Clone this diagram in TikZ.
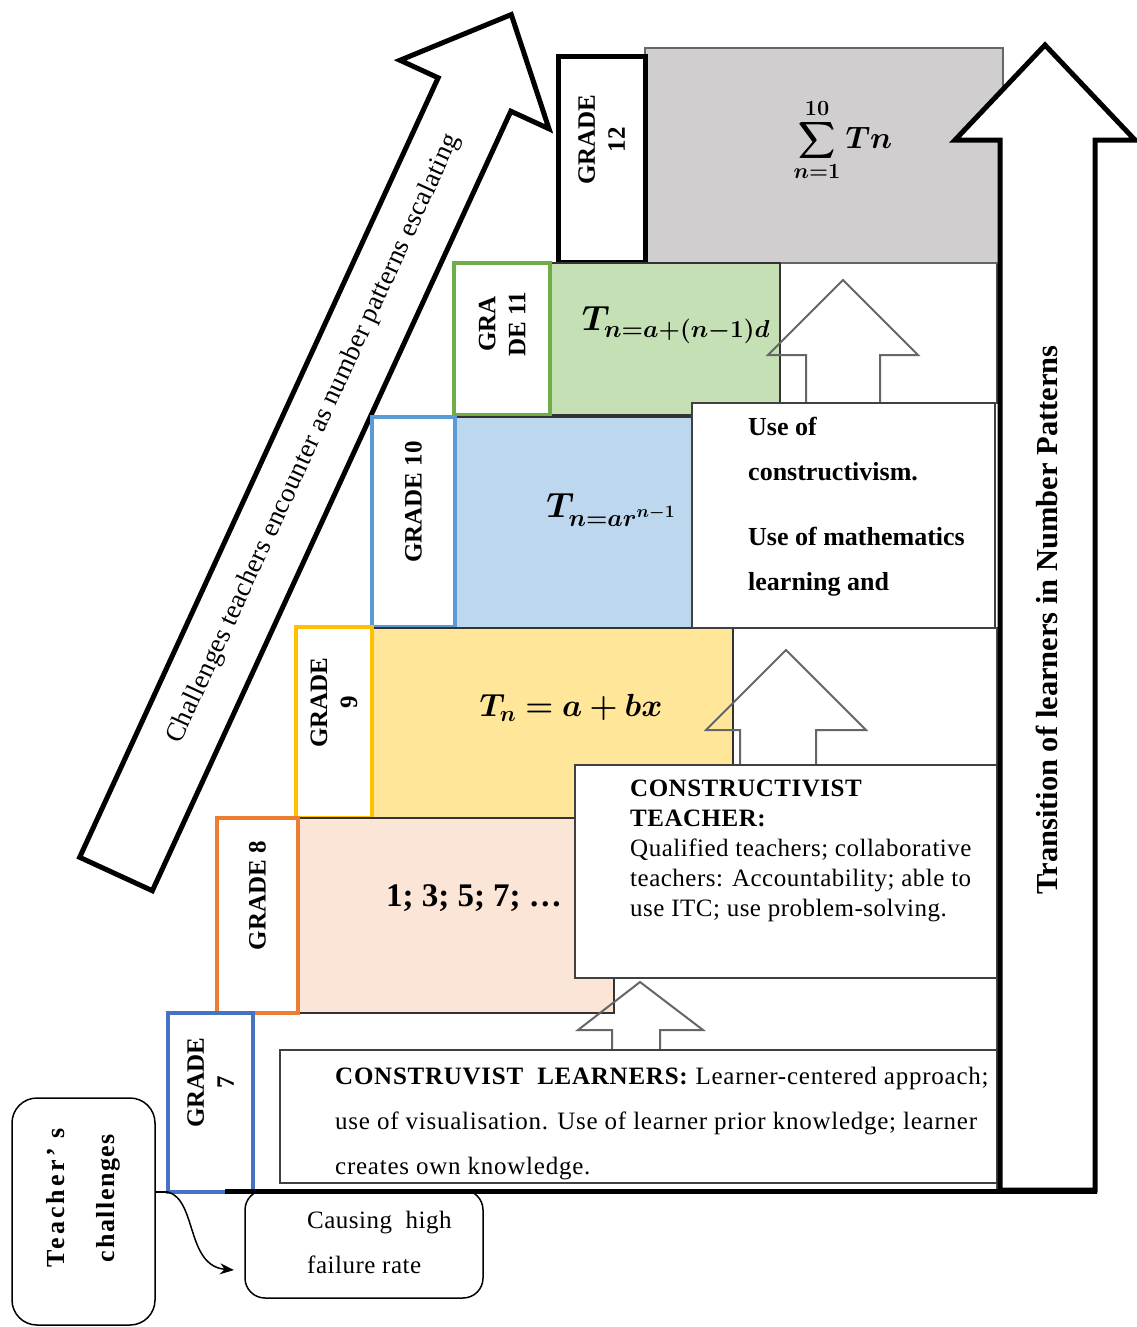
\RequirePackage{fix-cm}
\documentclass[tikz,border=0pt]{standalone}
\usepackage{amsmath}
\usepackage{bm}
\usepackage{fontspec}
\setmainfont{Liberation Serif}
\usetikzlibrary{fit,arrows.meta}

\definecolor{sumgray}{HTML}{D0CECE}
\definecolor{g11fill}{HTML}{C5E0B4}
\definecolor{g11edge}{HTML}{70AD47}
\definecolor{g10fill}{HTML}{BDD7EE}
\definecolor{g10edge}{HTML}{5B9BD5}
\definecolor{g9fill}{HTML}{FFE699}
\definecolor{g9edge}{HTML}{FFC000}
\definecolor{g8fill}{HTML}{FBE5D6}
\definecolor{g8edge}{HTML}{ED7D31}
\definecolor{g7edge}{HTML}{4472C4}

\begin{document}
\begin{tikzpicture}[x=1pt,y=-1pt,
  plainrect/.style={inner sep=0pt, outer sep=0pt},
  gradebox/.style={plainrect, draw=#1, line width=4pt, fill=white},
  termbox/.style={plainrect, draw=black!80, line width=1.4pt, fill=#1},
  rowcell/.style={plainrect, draw=black!70, line width=1.3pt, fill=white},
  notebox/.style={plainrect, draw=black!75, line width=1.4pt, fill=white},
  hollowup/.style={draw=black!60, line width=2pt, line join=miter},
  bigarrow/.style={draw=black, line width=5pt, fill=white, line join=miter},
  gradetxt/.style={rotate=90, align=center, font=\fontsize{25}{30}\selectfont\bfseries},
  mathtxt/.style={font=\fontsize{#1}{#1}\selectfont},
  bodytxt/.style={anchor=north west, align=left, inner sep=0pt},
]
\useasboundingbox (0,0) rectangle (1137,1327);

% ---- diagonal "challenges" arrow ----
\begin{scope}[shift={(116,874)}, rotate=65.3]
  \draw[bigarrow] (0,-40) -- (858,-40) -- (858,-82) -- (946,0) -- (858,82)
        -- (858,40) -- (0,40) -- cycle;
  \coordinate (dtext) at (478,-2);
\end{scope}
\node[rotate=65.3, font=\fontsize{27}{30}\selectfont\addfontfeature{LetterSpace=1}] at (dtext)
  {Challenges teachers encounter as number patterns escalating};

% ---- empty row cells of the staircase ----
\node[rowcell, fit={(253,978)(997,1190)}] (cell7) {};
\node[rowcell, fit={(733,628)(997,765)}] (cell9) {};
\node[rowcell, fit={(780,263)(997,403)}] (cell11) {};

% ---- grade 12 ----
\node[termbox=sumgray, draw=black!60, fit={(645,48)(1003,263)}] (t12) {};
\node[gradebox=black, line width=5pt, fit={(558,57)(645,262)}] (g12) {};

% ---- grade 11 ----
\node[termbox=g11fill, fit={(550,263)(780,415)}] (t11) {};
\node[gradebox=g11edge, fit={(454,263)(550,415)}] (g11) {};

% ---- grade 10 ----
\node[termbox=g10fill, fit={(455,417)(692,628)}] (t10) {};
\node[gradebox=g10edge, fit={(372,417)(455,627)}] (g10) {};

% ---- grade 9 ----
\node[termbox=g9fill, fit={(372,628)(733,818)}] (t9) {};
\node[gradebox=g9edge, fit={(296,627)(372,818)}] (g9) {};

% ---- grade 8 ----
\node[termbox=g8fill, fit={(298,818)(614,1013)}] (t8) {};
\node[gradebox=g8edge, fit={(217,818)(298,1013)}] (g8) {};

% ---- grade 7 ----
\node[gradebox=g7edge, fit={(168,1013)(253,1192)}] (g7) {};

% ---- hollow up arrows between the note boxes ----
\draw[hollowup] (806,403) -- (806,355) -- (768,355) -- (843,280) -- (918,355)
      -- (880,355) -- (880,403);
\draw[hollowup] (740,765) -- (740,730) -- (706,730) -- (786,650) -- (866,730)
      -- (816,730) -- (816,765);
\draw[hollowup] (612,1050) -- (612,1030) -- (578,1030) -- (640,982) -- (703,1030)
      -- (660,1030) -- (660,1050);

% ---- note boxes ----
\node[notebox, fit={(692,403)(995,628)}] (useof) {};
\node[notebox, fit={(575,765)(997,978)}] (teacher) {};
\node[notebox, fit={(280,1050)(997,1183)}] (learners) {};

% ---- big transition arrow and base line ----
\draw[bigarrow] (1000,1190) -- (1000,140) -- (955,140) -- (1045,45) -- (1135,140)
      -- (1095,140) -- (1095,1190) -- cycle;
\draw[line width=5pt] (225,1191) -- (1097,1191);
\node[rotate=90, font=\fontsize{30.5}{34}\selectfont\bfseries] at (1047,620)
  {Transition of learners in Number Patterns};

% ---- grade labels ----
\node[gradetxt] at ([yshift=20pt]g12.center) {GRADE\\12};
\node[gradetxt] at ([yshift=15pt]g11.center) {GRA\\DE 11};
\node[gradetxt] at ([yshift=20pt]g10.center) {GRADE 10};
\node[gradetxt] at ([yshift=20pt]g9.center) {GRADE\\9};
\node[gradetxt] at ([yshift=20pt]g8.center) {GRADE 8};
\node[gradetxt] at ([yshift=20pt]g7.center) {GRADE\\7};

% ---- number pattern formulas ----
\node[mathtxt=31] at (843,140) {$\displaystyle\bm{\sum_{n=1}^{10} Tn}$};
\node[mathtxt=35] at (676,325) {$\bm{T_{n=a+(n-1)d}}$};
\node[mathtxt=35] at (611,510) {$\bm{T_{n=ar^{n-1}}}$};
\node[mathtxt=32] at (571,708) {$\bm{T_n = a + bx}$};
\node[font=\fontsize{33}{33}\selectfont\bfseries] at (474,898) {1; 3; 5; 7; …};

% ---- note texts ----
\node[bodytxt, font=\fontsize{26}{45}\selectfont\bfseries] at (748,417)
  {Use of\\constructivism.\\[20pt]Use of mathematics\\learning and};
\node[bodytxt, font=\fontsize{25}{30}\selectfont\addfontfeature{LetterSpace=2}] at (630,780)
  {\textbf{CONSTRUCTIVIST}\\\textbf{TEACHER:}\\Qualified teachers; collaborative\\teachers: Accountability; able to\\use ITC; use problem-solving.};
\node[bodytxt, font=\fontsize{25}{45}\selectfont\addfontfeature{LetterSpace=3}] at (335,1067)
  {\textbf{CONSTRUVIST\ \ LEARNERS:} Learner-centered approach;\\use of visualisation. Use of learner prior knowledge; learner\\creates own knowledge.};

% ---- teacher's challenges and consequence ----
\node[plainrect, draw, line width=1.5pt, rounded corners=25pt, fit={(12,1098)(155,1325)}] (tc) {};
\node[rotate=90, align=center, font=\fontsize{26}{50}\selectfont\bfseries] at (83,1198)
  {{\addfontfeature{LetterSpace=12}Teacher’ s}\\{\addfontfeature{LetterSpace=6}challenges}};
\node[plainrect, draw, line width=1.5pt, rounded corners=20pt, fit={(245,1190)(483,1298)}] (cause) {};
\node[bodytxt, font=\fontsize{25}{45}\selectfont\addfontfeature{LetterSpace=2}] at (307,1211) {Causing\ \ high\\failure rate};
\coordinate (causetip) at (234,1270);
\draw[line width=1.5pt] (tc.east |- g7.south) -- (g7.south west);
\draw[line width=1.5pt, -{Stealth[length=14pt,width=11pt]}] (g7.south west)
  .. controls (197,1200) and (186,1266) .. (causetip);
\end{tikzpicture}
\end{document}
